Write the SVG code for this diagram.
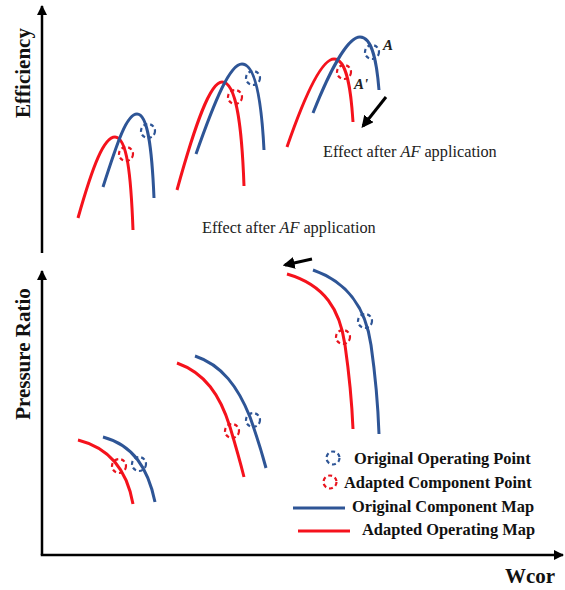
<svg xmlns="http://www.w3.org/2000/svg" width="565" height="590" viewBox="0 0 565 590">
<style>
.ax{stroke:#000;stroke-width:2.5;fill:none}
.b{stroke:#2E5596;stroke-width:3;fill:none;stroke-linecap:butt}
.r{stroke:#F5121C;stroke-width:3;fill:none;stroke-linecap:butt}
.bc{stroke:#2E5596;stroke-width:2.2;fill:none;stroke-dasharray:4 3}
.rc{stroke:#E8141E;stroke-width:2.2;fill:none;stroke-dasharray:4 3}
.arr{stroke:#000;stroke-width:3;fill:none}
.lab{font-family:"Liberation Serif",serif;font-weight:bold;font-size:21px;fill:#111}
.eff{font-family:"Liberation Serif",serif;font-size:16.3px;fill:#222}
.leg{font-family:"Liberation Serif",serif;font-weight:bold;font-size:16.4px;fill:#111}
.pt{font-family:"Liberation Serif",serif;font-weight:bold;font-style:italic;font-size:15px;fill:#222}
</style>
<defs>
<marker id="ah" viewBox="0 0 10 10" refX="9" refY="5" markerWidth="10" markerHeight="10" markerUnits="userSpaceOnUse" orient="auto">
<path d="M0,0 L10,5 L0,10 z" fill="#000"/>
</marker>
<marker id="ah2" viewBox="0 0 10 10" refX="8" refY="5" markerWidth="4" markerHeight="4" orient="auto">
<path d="M0,0 L10,5 L0,10 z" fill="#000"/>
</marker>
</defs>
<g id="axes">
<line class="ax" x1="42" y1="253" x2="42" y2="6" marker-end="url(#ah)"/>
<line class="ax" x1="42" y1="555" x2="42" y2="271" marker-end="url(#ah)"/>
<line class="ax" x1="40.75" y1="555" x2="563" y2="555" marker-end="url(#ah)"/>
<text class="lab" transform="translate(30,73) rotate(-90)" text-anchor="middle">Efficiency</text>
<text class="lab" transform="translate(30,354) rotate(-90)" text-anchor="middle">Pressure Ratio</text>
<text class="lab" x="505" y="583">Wcor</text>
</g>
<g id="efficiency-curves">
<path class="r" d="M78,218 C93,165 104,137 115,137 C127,137 131,175 133,230"/>
<path class="b" d="M103,187 C118,140 127,114 137,114 C148,114 152,150 154,198"/>
<path class="r" d="M177,190 C195,125 210,82 222,82 C237,82 242,130 244,186"/>
<path class="b" d="M196,154 C215,100 230,64 242,64 C257,64 262,110 264,150"/>
<path class="r" d="M287,147 C305,95 322,59 334,59 C347,59 351,90 353,122"/>
<path class="b" d="M313,113 C330,70 348,37 360,37 C373,37 377,65 379,90"/>
</g>
<g id="efficiency-points">
<circle class="bc" cx="148" cy="131" r="7"/>
<circle class="rc" cx="126" cy="154" r="7"/>
<circle class="bc" cx="253" cy="78" r="7"/>
<circle class="rc" cx="235" cy="97" r="7"/>
<circle class="bc" cx="372" cy="52" r="7"/>
<circle class="rc" cx="344" cy="72" r="7"/>
<text class="pt" x="383" y="50">A</text>
<text class="pt" x="354" y="89">A'</text>
</g>
<g id="pressure-curves">
<path class="r" d="M287,274 C325,285 340,310 345,345 C350,380 352,405 353,429"/>
<path class="b" d="M313,270 C350,283 366,310 371,345 C376,380 378,405 379,434"/>
<path class="r" d="M177,363 C205,373 220,395 230,427 C236,447 241,465 244,477"/>
<path class="b" d="M195,356 C222,365 238,387 250,417 C256,434 262,453 266,468"/>
<path class="r" d="M78,440 C110,448 127,470 133,504"/>
<path class="b" d="M103,437 C133,445 148,468 155,502"/>
</g>
<g id="pressure-points">
<circle class="bc" cx="365" cy="321" r="7"/>
<circle class="rc" cx="343" cy="337" r="7"/>
<circle class="bc" cx="253" cy="420" r="7"/>
<circle class="rc" cx="232" cy="431" r="7"/>
<circle class="bc" cx="139" cy="464" r="7"/>
<circle class="rc" cx="119" cy="466" r="7"/>
</g>
<g id="connectors">
<line class="arr" x1="386" y1="97" x2="363" y2="126" marker-end="url(#ah2)"/>
<line class="arr" x1="312" y1="259" x2="285" y2="265" marker-end="url(#ah2)"/>
</g>
<g id="annotations">
<text class="eff" x="323" y="157">Effect after <tspan font-style="italic">AF</tspan> application</text>
<text class="eff" x="202" y="233">Effect after <tspan font-style="italic">AF</tspan> application</text>
</g>
<g id="legend">
<circle class="bc" cx="333" cy="458" r="6.5"/>
<text class="leg" x="354" y="464">Original Operating Point</text>
<circle class="rc" cx="330" cy="482" r="6.5"/>
<text class="leg" x="344" y="488">Adapted Component Point</text>
<line class="b" x1="293" y1="508" x2="345" y2="508"/>
<text class="leg" x="352" y="512">Original Component Map</text>
<line class="r" x1="298" y1="531" x2="350" y2="531"/>
<text class="leg" x="362" y="535">Adapted Operating Map</text>
</g>
</svg>
